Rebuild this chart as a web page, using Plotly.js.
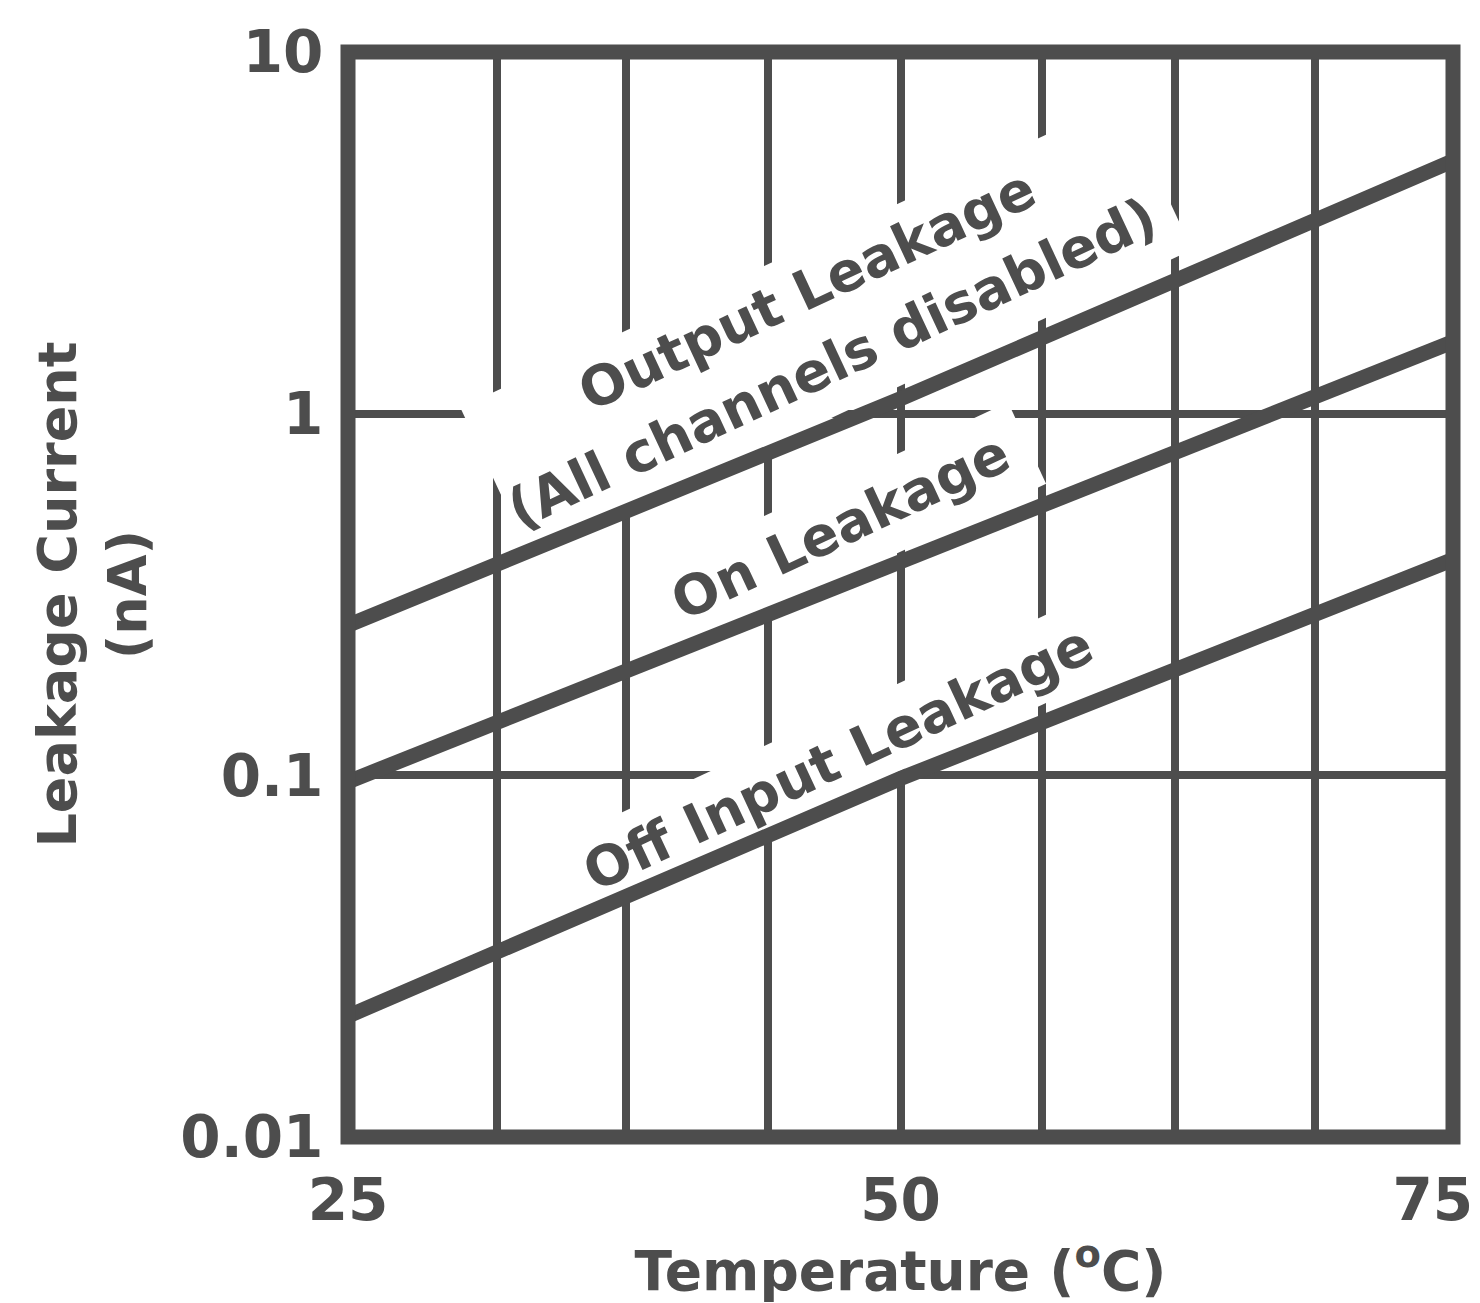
<!DOCTYPE html>
<html>
<head>
<meta charset="utf-8">
<script src="https://cdn.plot.ly/plotly-3.0.1.min.js"></script>
<style>
html, body { margin: 0; padding: 0; background: #ffffff; }
#chart { width: 1480px; height: 1303px; }
</style>
</head>
<body>
<div id="chart"></div>
<script>
// ---- data ----
const temps = [25, 50, 75];                    // Temperature (°C)
const outputLeak = [0.26, 1.1, 5.0];           // Output Leakage (All channels disabled), nA
const onLeak = [0.096, 0.39, 1.58];            // On Leakage, nA
const offLeak = [0.0216, 0.098, 0.395];        // Off Input Leakage, nA

const gridTemps = [25, 31.75, 37.6, 44, 50, 56.4, 62.4, 68.75, 75];
const xTickText = ['25', '', '', '', '50', '', '', '', '75\u00a0\u00a0'];
const yTickVals = [0.01, 0.1, 1, 10];
const yTickText = ['0.01', '0.1', '1', '10'];

const labelTexts = ['Output Leakage', '(All channels disabled)', 'On Leakage', 'Off Input Leakage'];

// ---- styling / placement ----
const INK = '#4d4d4d';
const FONT = 'DejaVu Sans';
const W = 1480, H = 1303;
const M = { l: 348, r: 27, t: 52, b: 166 };
const PW = W - M.l - M.r, PH = H - M.t - M.b;
const X0 = 25, X1 = 75, LOG0 = -2, LOG1 = 1;
const ANGLE = 25;  // degrees, text rises to the right

// label centres in pixels (placement only)
const labelPos = [[807, 290], [832, 363], [840, 527], [838, 758]];
// white masks behind labels (gaps in the grid): [cx, cy, length, top offset, bottom offset]
const maskGeom = [
  [825, 326, 730, -80, 86],
  [840, 527, 410, -42, 48],
  [838, 758, 610, -42, 38]
];

function toFrac(px, py) {
  return [(px - M.l) / PW, 1 - (py - M.t) / PH];
}
function toData(px, py) {
  const f = toFrac(px, py);
  return [X0 + f[0] * (X1 - X0), Math.pow(10, LOG0 + f[1] * (LOG1 - LOG0))];
}

function seriesTrace(y) {
  return {
    x: temps, y: y, type: 'scatter', mode: 'lines',
    line: { color: INK, width: 15 },
    hoverinfo: 'skip', showlegend: false
  };
}

const data = [seriesTrace(outputLeak), seriesTrace(onLeak), seriesTrace(offLeak)];

function makeAnnotations(withBg) {
  return labelTexts.map((t, i) => {
    const p = toFrac(labelPos[i][0], labelPos[i][1]);
    const ann = {
      text: t, xref: 'paper', yref: 'paper', x: p[0], y: p[1],
      xanchor: 'center', yanchor: 'middle',
      showarrow: false, textangle: -ANGLE,
      font: { family: FONT, size: 55, color: INK, weight: 'bold' }
    };
    if (withBg) { ann.bgcolor = '#ffffff'; ann.borderpad = 0; }
    return ann;
  });
}

const a = ANGLE * Math.PI / 180;
const ux = Math.cos(a), uy = -Math.sin(a);   // along text
const nx = Math.sin(a), ny = Math.cos(a);    // perpendicular, downward
const masks = maskGeom.map(g => {
  const [cx, cy, len, top, bot] = g;
  const corners = [
    [-len / 2, top], [len / 2, top], [len / 2, bot], [-len / 2, bot]
  ].map(([s, d]) => toData(cx + ux * s + nx * d, cy + uy * s + ny * d));
  const path = 'M' + corners.map(c => c[0].toFixed(4) + ',' + c[1].toPrecision(6)).join(' L') + ' Z';
  return {
    type: 'path', xref: 'x', yref: 'y', path: path,
    fillcolor: '#ffffff', line: { width: 0 }, layer: 'between'
  };
});

const frame = {
  type: 'rect', xref: 'paper', yref: 'paper', x0: 0, x1: 1, y0: 0, y1: 1,
  line: { color: INK, width: 15 }, fillcolor: 'rgba(0,0,0,0)', layer: 'above'
};

const tickFont = { family: FONT, size: 58, color: INK, weight: 'bold' };

function makeLayout(useMasks) {
  return {
    width: W, height: H,
    margin: M,
    paper_bgcolor: '#ffffff', plot_bgcolor: '#ffffff',
    showlegend: false,
    xaxis: {
      range: [X0, X1], type: 'linear',
      tickmode: 'array', tickvals: gridTemps, ticktext: xTickText,
      ticklabeloverflow: 'allow',
      showgrid: true, gridcolor: INK, gridwidth: 8,
      zeroline: false, showline: false,
      ticks: 'outside', ticklen: 12, tickcolor: 'rgba(0,0,0,0)',
      tickfont: tickFont,
      title: { text: 'Temperature (<sup>o</sup>C)', standoff: 10,
               font: { family: FONT, size: 55, color: INK, weight: 'bold' } }
    },
    yaxis: {
      type: 'log', range: [LOG0, LOG1],
      tickmode: 'array', tickvals: yTickVals, ticktext: yTickText,
      showgrid: true, gridcolor: INK, gridwidth: 8,
      zeroline: false, showline: false,
      ticks: 'outside', ticklen: 12, tickcolor: 'rgba(0,0,0,0)',
      tickfont: tickFont,
      title: { text: 'Leakage Current<br>(nA)', standoff: 16,
               font: { family: FONT, size: 54, color: INK, weight: 'bold' } }
    },
    shapes: useMasks ? masks.concat([frame]) : [frame],
    annotations: makeAnnotations(!useMasks)
  };
}

const config = { displayModeBar: false, staticPlot: true };
function fallback() {
  Plotly.purge('chart');
  Plotly.newPlot('chart', data, makeLayout(false), config);
}
try {
  const p = Plotly.newPlot('chart', data, makeLayout(true), config);
  if (p && p.catch) p.catch(fallback);
} catch (e) {
  fallback();
}
</script>
</body>
</html>
